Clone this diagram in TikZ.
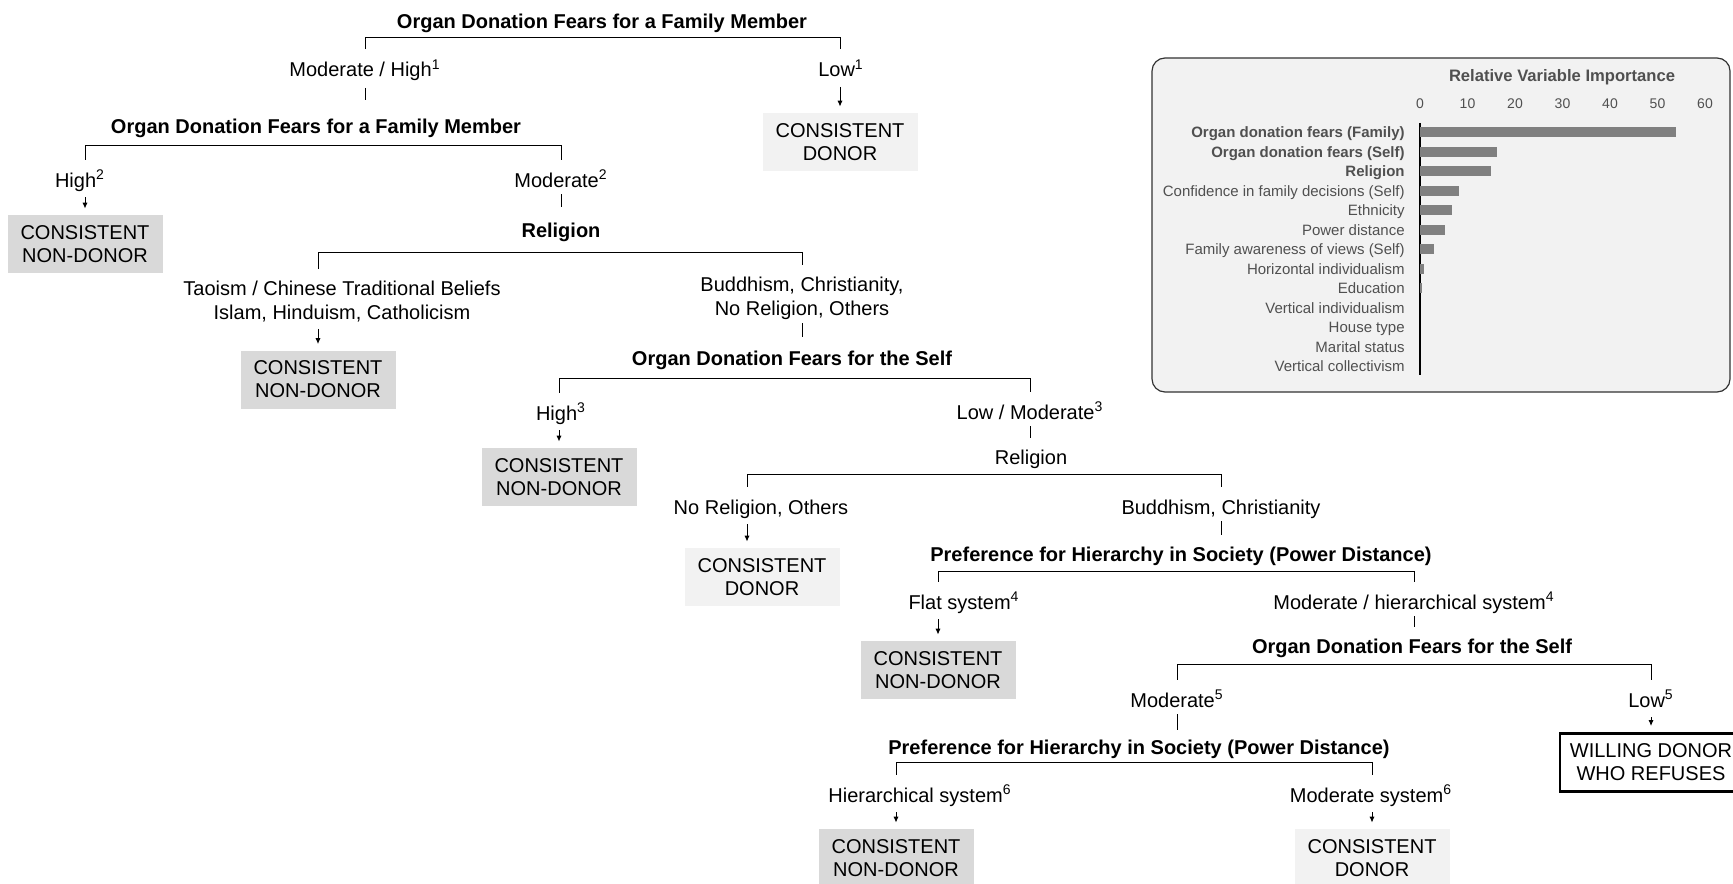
\documentclass[tikz,border=0pt]{standalone}
\usepackage{fontspec}
\setmainfont{Liberation Sans}
\usepackage{tikz}
\usetikzlibrary{arrows.meta}
\tikzset{>={Latex[width=2.6pt,length=3pt]}}
\definecolor{NonDonor}{RGB}{217,217,217}
\definecolor{Donor}{RGB}{242,242,242}
\definecolor{PanelFill}{RGB}{242,242,242}
\definecolor{BarGray}{RGB}{128,128,128}
\definecolor{NameGray}{RGB}{80,80,80}
\tikzset{
	varname/.style={inner xsep=0pt,inner ysep=3pt,text height=7.5pt,text depth=2pt,font=\fontsize{10}{12}\selectfont},
	bvarname/.style={varname,font=\fontsize{10}{12}\selectfont\bfseries},
	branch/.style={inner sep=0pt,text height=7.5pt,text depth=2pt,font=\fontsize{10}{12}\selectfont},
	branchtwo/.style={inner sep=0pt,align=center,font=\fontsize{10}{12}\selectfont},
	leaf/.style={minimum width=77.5pt,minimum height=29pt,inner sep=0pt,align=center,font=\fontsize{10}{11.5}\selectfont},
	nondonor/.style={leaf,fill=NonDonor},
	donor/.style={leaf,fill=Donor},
	willing/.style={leaf,draw=black,line width=1.4pt,minimum width=91pt},
	bracket/.style={line width=0.5pt,shorten <=6pt,shorten >=6pt},
	stem/.style={line width=0.5pt,shorten <=1.5pt,shorten >=2.5pt},
	arr/.style={->,line width=0.5pt,shorten <=3pt,shorten >=3pt},
	panel/.style={draw=black!80,fill=PanelFill,line width=0.6pt,rounded corners=6.5pt},
	ctitle/.style={inner sep=0pt,text=NameGray,font=\fontsize{8.3}{10}\selectfont\bfseries},
	ctick/.style={inner sep=0pt,text=NameGray,font=\fontsize{7}{8}\selectfont},
	cname/.style={anchor=east,inner sep=0pt,text height=5.6pt,text depth=1.6pt,text=NameGray,font=\fontsize{7.5}{9}\selectfont},
	bcname/.style={cname,font=\fontsize{7.5}{9}\selectfont\bfseries},
	bar/.style={fill=BarGray}
}

\begin{document}
\begin{tikzpicture}[x=0.5pt,y=-0.5pt]
	\useasboundingbox (0,0) rectangle (1733,883);

	% fears for a family member
	\node[bvarname,anchor=south,inner ysep=2.5pt] (hd1) at (602,38) {Organ Donation Fears for a Family Member};
	\node[branch] (lb1a) at (365,71) {Moderate / High\textsuperscript{1}};
	\node[branch] (lb1b) at (841,71) {Low\textsuperscript{1}};
	\node[donor] (lf1) at (840,142) {CONSISTENT\\DONOR};
	\draw[bracket] (lb1a.north) -- (lb1a |- hd1.south) -- (lf1 |- hd1.south) -- (lf1 |- lb1b.north);
	\draw[arr] (lf1 |- lb1b.south) -- (lf1.north);

	% fears for a family member, second cut
	\node[bvarname,anchor=south,inner ysep=4pt] (hd2) at (316,145.5) {Organ Donation Fears for a Family Member};
	\draw[stem,shorten <=3.5pt,shorten >=5pt] (lb1a) -- (lb1a |- hd2.north);
	\node[branch] (lb2a) at (80,181.5) {High\textsuperscript{2}};
	\node[branch] (lb2b) at (561,181.5) {Moderate\textsuperscript{2}};
	\node[nondonor] (lf2) at (85,244) {CONSISTENT\\NON-DONOR};
	\draw[bracket] (lf2 |- lb2a.north) -- (lf2 |- hd2.south) -- (lb2b |- hd2.south) -- (lb2b.north);
	\draw[arr] (lf2 |- lb2a.south) -- (lf2.north);

	% religion
	\node[bvarname,anchor=south,inner ysep=5pt] (hd3) at (561,252) {Religion};
	\draw[stem] (lb2b) -- (lb2b |- hd3.north);
	\node[branchtwo] (lb3a) at (342,302) {Taoism / Chinese Traditional Beliefs\\Islam, Hinduism, Catholicism};
	\node[branchtwo] (lb3b) at (802,298.5) {Buddhism, Christianity,\\No Religion, Others};
	\node[nondonor] (lf3) at (318,379.5) {CONSISTENT\\NON-DONOR};
	\draw[bracket] (lf3 |- lb3a.north) -- (lf3 |- hd3.south) -- (lb3b |- hd3.south) -- (lb3b.north);
	\draw[arr] (lf3 |- lb3a.south) -- (lf3.north);

	% fears for the self
	\node[bvarname,anchor=south,inner ysep=4pt] (hd4) at (792,378) {Organ Donation Fears for the Self};
	\draw[stem] (lb3b) -- (lb3b |- hd4.north);
	\node[branch] (lb4a) at (561,414.5) {High\textsuperscript{3}};
	\node[branch] (lb4b) at (1030,413.5) {Low / Moderate\textsuperscript{3}};
	\node[nondonor] (lf4) at (559,477) {CONSISTENT\\NON-DONOR};
	\draw[bracket] (lf4 |- lb4a.north) -- (lf4 |- hd4.south) -- (lb4b |- hd4.south) -- (lb4b.north);
	\draw[arr] (lf4 |- lb4a.south) -- (lf4.north);

	% religion, second cut
	\node[varname,anchor=south] (hd5) at (1031,474.5) {Religion};
	\draw[stem] (lb4b) -- (lb4b |- hd5.north);
	\node[branch] (lb5a) at (761,508.5) {No Religion, Others};
	\node[branch] (lb5b) at (1221,508.5) {Buddhism, Christianity};
	\node[donor] (lf5) at (762,577) {CONSISTENT\\DONOR};
	\coordinate (in5a) at ([xshift=-7.5pt]lf5.north);
	\draw[bracket] (in5a |- lb5a.north) -- (in5a |- hd5.south) -- (lb5b |- hd5.south) -- (lb5b.north);
	\draw[arr] (in5a |- lb5a.south) -- (in5a);

	% power distance
	\node[bvarname,anchor=south] (hd6) at (1181,571.5) {Preference for Hierarchy in Society (Power Distance)};
	\draw[stem] (lb5b) -- (lb5b |- hd6.north);
	\node[branch] (lb6a) at (964,603.5) {Flat system\textsuperscript{4}};
	\node[branch] (lb6b) at (1414,603.5) {Moderate / hierarchical system\textsuperscript{4}};
	\node[nondonor] (lf6) at (938,670) {CONSISTENT\\NON-DONOR};
	\draw[bracket] (lf6 |- lb6a.north) -- (lf6 |- hd6.south) -- (lb6b |- hd6.south) -- (lb6b.north);
	\draw[arr] (lf6 |- lb6a.south) -- (lf6.north);

	% fears for the self, second cut
	\node[bvarname,anchor=south] (hd7) at (1412,664) {Organ Donation Fears for the Self};
	\draw[stem] (lb6b) -- (lb6b |- hd7.north);
	\node[branch] (lb7a) at (1177,701.5) {Moderate\textsuperscript{5}};
	\node[branch] (lb7b) at (1651,701.5) {Low\textsuperscript{5}};
	\node[willing] (lf7) at (1651,762.5) {WILLING DONOR\\WHO REFUSES};
	\draw[bracket] (lb7a.north) -- (lb7a |- hd7.south) -- (lf7 |- hd7.south) -- (lf7 |- lb7b.north);
	\draw[arr] (lf7 |- lb7b.south) -- (lf7.north);

	% power distance, second cut
	\node[bvarname,anchor=south,inner ysep=2pt] (hd8) at (1139,762.5) {Preference for Hierarchy in Society (Power Distance)};
	\draw[stem] (lb7a) -- (lb7a |- hd8.north);
	\node[branch] (lb8a) at (920,796.5) {Hierarchical system\textsuperscript{6}};
	\node[branch] (lb8b) at (1371,796.5) {Moderate system\textsuperscript{6}};
	\node[nondonor] (lf8) at (896,858) {CONSISTENT\\NON-DONOR};
	\node[donor] (lf9) at (1372,858) {CONSISTENT\\DONOR};
	\draw[bracket] (lf8 |- lb8a.north) -- (lf8 |- hd8.south) -- (lf9 |- hd8.south) -- (lf9 |- lb8b.north);
	\draw[arr] (lf8 |- lb8a.south) -- (lf8.north);
	\draw[arr] (lf9 |- lb8b.south) -- (lf9.north);

	% importance panel
	\draw[panel] (1152,58) rectangle (1730,392);
	\node[ctitle] (ttl) at (1562,77) {Relative Variable Importance};

	% axis labels
	\node[ctick] (t0) at (1420,104) {0};
	\node[ctick] (t10) at (1467.5,104) {10};
	\node[ctick] (t20) at (1515,104) {20};
	\node[ctick] (t30) at (1562.5,104) {30};
	\node[ctick] (t40) at (1610,104) {40};
	\node[ctick] (t50) at (1657.5,104) {50};
	\node[ctick] (t60) at (1705,104) {60};

	% axis
	\coordinate (ax0) at (1420,123);
	\coordinate (ax1) at (1420,375);
	\draw[line width=0.6pt] (ax0) -- (ax1);

	% bars
	\fill[bar] (1420,127.3) rectangle ++(255.6,10);
	\fill[bar] (1420,146.8) rectangle ++(77.4,10);
	\fill[bar] (1420,166.3) rectangle ++(70.8,10);
	\fill[bar] (1420,185.8) rectangle ++(38.5,10);
	\fill[bar] (1420,205.3) rectangle ++(31.8,10);
	\fill[bar] (1420,224.8) rectangle ++(25.2,10);
	\fill[bar] (1420,244.3) rectangle ++(14,10);
	\fill[bar] (1420,263.8) rectangle ++(3.7,10);
	\fill[bar] (1420,283.3) rectangle ++(2.4,10);

	% variable names
	\node[bcname] (v1) at (1405,133.7) {Organ donation fears (Family)};
	\node[bcname] (v2) at (1405,153.2) {Organ donation fears (Self)};
	\node[bcname] (v3) at (1405,172.7) {Religion};
	\node[cname] (v4) at (1405,192.2) {Confidence in family decisions (Self)};
	\node[cname] (v5) at (1405,211.7) {Ethnicity};
	\node[cname] (v6) at (1405,231.2) {Power distance};
	\node[cname] (v7) at (1405,250.7) {Family awareness of views (Self)};
	\node[cname] (v8) at (1405,270.2) {Horizontal individualism};
	\node[cname] (v9) at (1405,289.7) {Education};
	\node[cname] (v10) at (1405,309.2) {Vertical individualism};
	\node[cname] (v11) at (1405,328.7) {House type};
	\node[cname] (v12) at (1405,348.2) {Marital status};
	\node[cname] (v13) at (1405,367.7) {Vertical collectivism};

\end{tikzpicture}
\end{document}
